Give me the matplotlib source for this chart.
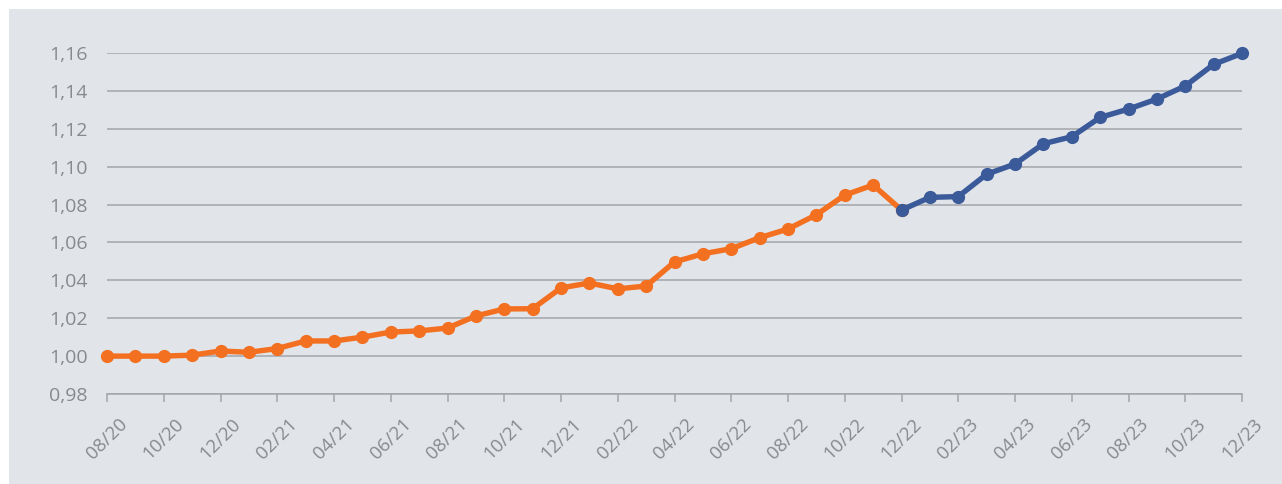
import numpy as np
from matplotlib import pyplot as plt
from matplotlib.patches import Rectangle

# month labels, 08/20 .. 12/23
months = ['08/20', '09/20', '10/20', '11/20', '12/20', '01/21', '02/21', '03/21',
          '04/21', '05/21', '06/21', '07/21', '08/21', '09/21', '10/21', '11/21',
          '12/21', '01/22', '02/22', '03/22', '04/22', '05/22', '06/22', '07/22',
          '08/22', '09/22', '10/22', '11/22', '12/22', '01/23', '02/23', '03/23',
          '04/23', '05/23', '06/23', '07/23', '08/23', '09/23', '10/23', '11/23',
          '12/23']

# actual values (08/20 .. 12/22)
actual = [1.000, 1.000, 1.000, 1.0005, 1.0027, 1.002, 1.004, 1.008, 1.008,
          1.010, 1.0127, 1.0133, 1.0148, 1.0212, 1.0249, 1.025, 1.036, 1.0386,
          1.0355, 1.037, 1.0497, 1.054, 1.0567, 1.0625, 1.0671, 1.0746, 1.085,
          1.0903, 1.0771]

# forecast values (12/22 .. 12/23)
forecast = [1.0771, 1.0838, 1.0842, 1.096, 1.1014, 1.1121, 1.1158, 1.126,
            1.1304, 1.1357, 1.1426, 1.154, 1.1598]

yticks = [0.98, 1.00, 1.02, 1.04, 1.06, 1.08, 1.10, 1.12, 1.14, 1.16]

orange = '#f37021'
blue = '#3a5a9a'
bg = '#e1e4e9'
gridc = '#a2a5a9'
textc = '#86898d'

plt.rcParams['font.family'] = ['Open Sans', 'DejaVu Sans']

fig = plt.figure(figsize=(12.82, 4.84), dpi=100, facecolor='white')
# grey panel behind the chart
fig.patches.append(Rectangle((9 / 1282, 0), 1, 1 - 9 / 484, transform=fig.transFigure,
                             facecolor=bg, edgecolor='none', zorder=-10))

ax = fig.add_axes([107 / 1282, 1 - 394 / 484, (1242 - 107) / 1282, (394 - 53) / 484])
ax.set_facecolor('none')

x = np.arange(len(months))
n_act = len(actual)
ax.plot(x[:n_act], actual, color=orange, lw=3.9, marker='o', ms=8.5,
        solid_joinstyle='round', clip_on=False, zorder=3)
ax.plot(x[n_act - 1:], forecast, color=blue, lw=3.9, marker='o', ms=8.5,
        solid_joinstyle='round', clip_on=False, zorder=4)

ax.set_xlim(0, len(months) - 1)
ax.set_ylim(0.98, 1.16)
ax.set_yticks(yticks)
ax.set_yticklabels([('%.2f' % v).replace('.', ',') for v in yticks])
ax.set_xticks(x[::2])
ax.set_xticklabels(months[::2], rotation=45)

ax.grid(axis='y', color=gridc, lw=1.1)
ax.set_axisbelow(True)
for s in ['left', 'right', 'top']:
    ax.spines[s].set_visible(False)
ax.spines['bottom'].set_color(gridc)
ax.spines['bottom'].set_linewidth(1.1)

ax.tick_params(axis='y', length=0, pad=14, labelsize=14, labelcolor=textc)
ax.tick_params(axis='x', length=6, width=1.1, color=gridc, pad=9,
               labelsize=13.5, labelcolor=textc)

plt.savefig('out.png', dpi=100, facecolor=fig.get_facecolor())
